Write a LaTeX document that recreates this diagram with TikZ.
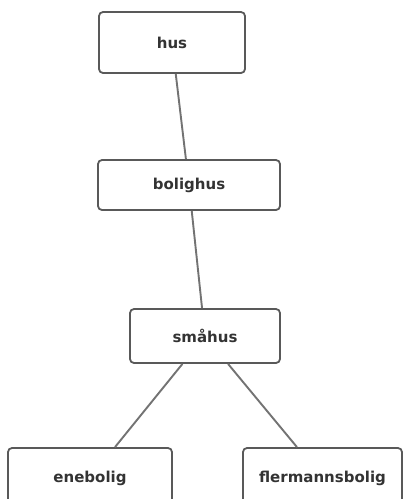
\documentclass[tikz,border=0pt]{standalone}
\usepackage{fontspec}
\setmainfont{DejaVu Sans}
\usepackage{tikz}
\begin{document}
\begin{tikzpicture}[x=1pt,y=-1pt,font=\fontsize{15}{18}\selectfont\bfseries,
  concept/.style={draw=black!65,line width=1.8pt,rounded corners=4pt,fill=white,text=black!80,inner sep=2pt,align=center},
  link/.style={draw=black!55,line width=1.9pt}]
\clip (0,0) rectangle (403,499);
\node[concept,minimum width=146pt,minimum height=61pt] (hus) at (172,42.5) {hus};
\node[concept,minimum width=182pt,minimum height=50pt] (bolighus) at (189,185) {bolighus};
\node[concept,minimum width=150pt,minimum height=54pt] (smahus) at (205,336) {småhus};
\node[concept,minimum width=164pt,minimum height=60pt] (enebolig) at (90,478) {enebolig};
\node[concept,minimum width=159pt,minimum height=60pt] (fler) at (322.5,478) {flermannsbolig};
\draw[link] (hus) -- (bolighus);
\draw[link] (bolighus) -- (smahus);
\draw[link] (smahus) -- (enebolig);
\draw[link] (smahus) -- (fler);
\end{tikzpicture}
\end{document}
